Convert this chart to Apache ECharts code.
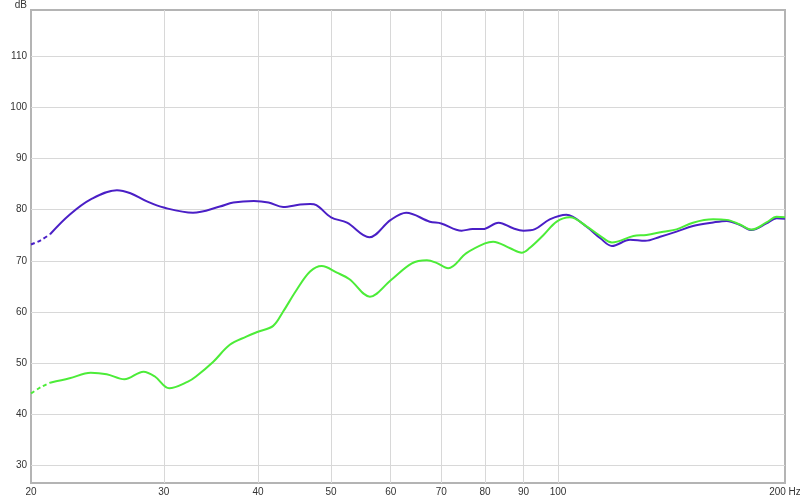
<!DOCTYPE html>
<html>
<head>
<meta charset="utf-8">
<script src="https://cdn.jsdelivr.net/npm/echarts@6/dist/echarts.min.js"></script>
<style>html,body{margin:0;padding:0;background:#fff}#c{width:800px;height:499px}</style>
</head>
<body>
<div id="c"></div>
<script>
// Frequencies (Hz) and levels (dB)
const blueDashFreq = [20, 20.6, 21.2];
const blueDashDb   = [73.2, 74.0, 75.2];
const blueFreq = [21.2, 22.5, 24.0, 26.0, 27.1, 28.5, 30, 32.8, 35.6, 37.1, 39.5, 41.3, 43.2, 45.5, 46.9, 47.8, 50, 52.5, 56.2, 60, 62.9, 67.6, 70, 74.5, 77, 79.5, 83.4, 87.2, 90, 93.2, 97.5, 102.6, 109, 113.8, 117.9, 124.6, 130.5, 136.6, 143.6, 151, 160.6, 167.4, 174.3, 180.6, 189, 195, 200];
const blueDb   = [75.2, 79.0, 82.0, 83.8, 83.2, 81.6, 80.4, 79.4, 80.6, 81.4, 81.7, 81.4, 80.5, 81.0, 81.1, 80.9, 78.5, 77.45, 74.6, 78.0, 79.4, 77.65, 77.3, 75.9, 76.2, 76.2, 77.45, 76.35, 75.9, 76.2, 78.1, 79.0, 76.7, 74.4, 72.9, 74.1, 73.9, 74.7, 75.7, 76.8, 77.5, 77.8, 77.0, 76.0, 77.3, 78.3, 78.2];

const greenDashFreq = [20, 20.6, 21.2];
const greenDashDb   = [44.1, 45.3, 46.2];
const greenFreq = [21.2, 22.5, 24.0, 25.2, 26.6, 28.2, 29.2, 30.5, 32.3, 33.1, 34.9, 36.7, 38.6, 40, 41.9, 43.2, 45.0, 46.9, 48.6, 50.9, 52.9, 56.3, 60, 64.0, 67.0, 69.0, 71.5, 75.6, 80, 82, 86.4, 89.5, 91.6, 95.6, 99.6, 103.7, 109, 113.8, 117.9, 125.9, 131, 137.9, 143.6, 151, 160.6, 167.4, 174.3, 180.6, 189, 195, 200];
const greenDb   = [46.2, 47.05, 48.15, 47.85, 46.85, 48.35, 47.4, 45.1, 46.4, 47.4, 50.3, 53.6, 55.2, 56.15, 57.3, 60.1, 64.3, 67.9, 69.0, 67.7, 66.4, 63.0, 66.2, 69.5, 70.1, 69.6, 68.55, 71.5, 73.4, 73.75, 72.45, 71.6, 72.45, 75.0, 77.65, 78.5, 76.8, 74.85, 73.6, 74.85, 75.05, 75.7, 76.15, 77.45, 78.1, 78.0, 77.1, 76.1, 77.5, 78.6, 78.5];

const xLabelFreqs = [20, 30, 40, 50, 60, 70, 80, 90, 100, 200];
const xGridFreqs  = [30, 40, 50, 60, 70, 80, 90, 100];
const yTicks = [30, 40, 50, 60, 70, 80, 90, 100, 110];

const lg = v => Math.log10(v);
const pts = (f, d) => f.map((v, i) => [lg(v), d[i]]);

const BLUE = '#4a1fc6';
const GREEN = '#4cec38';
const FONT = 'Liberation Sans, Arial, sans-serif';

const chart = echarts.init(document.getElementById('c'), null, {renderer: 'canvas'});
chart.setOption({
  animation: false,
  backgroundColor: '#ffffff',
  grid: {left: 31, right: 15, top: 10, bottom: 16, outerBoundsMode: 'none', containLabel: false, show: true, borderColor: '#b4b4b4', borderWidth: 2, backgroundColor: '#fff'},
  xAxis: {
    type: 'value',
    min: lg(20), max: lg(200),
    axisLine: {show: false},
    axisTick: {show: false, customValues: xGridFreqs.map(lg)},
    splitLine: {show: true, lineStyle: {color: '#d8d8d8', width: 1}},
    axisLabel: {
      customValues: xLabelFreqs.map(lg),
      fontFamily: FONT, fontSize: 10, color: '#333', margin: 4,
      formatter: v => { const f = Math.round(Math.pow(10, v)); return f === 200 ? '200 Hz' : String(f); }
    }
  },
  yAxis: {
    type: 'value',
    min: 26.6, max: 119,
    name: 'dB', nameLocation: 'end', nameGap: 0,
    nameTextStyle: {fontFamily: FONT, fontSize: 10, color: '#333', align: 'right', verticalAlign: 'bottom', padding: [0, 4, 0, 0]},
    axisLine: {show: false},
    axisTick: {show: false, customValues: yTicks},
    splitLine: {show: true, lineStyle: {color: '#d8d8d8', width: 1}},
    axisLabel: {customValues: yTicks, fontFamily: FONT, fontSize: 10, color: '#333', margin: 4}
  },
  series: [
    {type: 'line', data: pts(blueDashFreq, blueDashDb), showSymbol: false, smooth: 0.3, lineStyle: {color: BLUE, width: 2, type: [4, 3]}, z: 3},
    {type: 'line', data: pts(blueFreq, blueDb), showSymbol: false, smooth: 0.35, lineStyle: {color: BLUE, width: 2}, z: 3},
    {type: 'line', data: pts(greenDashFreq, greenDashDb), showSymbol: false, smooth: 0.3, lineStyle: {color: GREEN, width: 2, type: [4, 3]}, z: 4},
    {type: 'line', data: pts(greenFreq, greenDb), showSymbol: false, smooth: 0.35, lineStyle: {color: GREEN, width: 2}, z: 4}
  ]
});
</script>
</body>
</html>
